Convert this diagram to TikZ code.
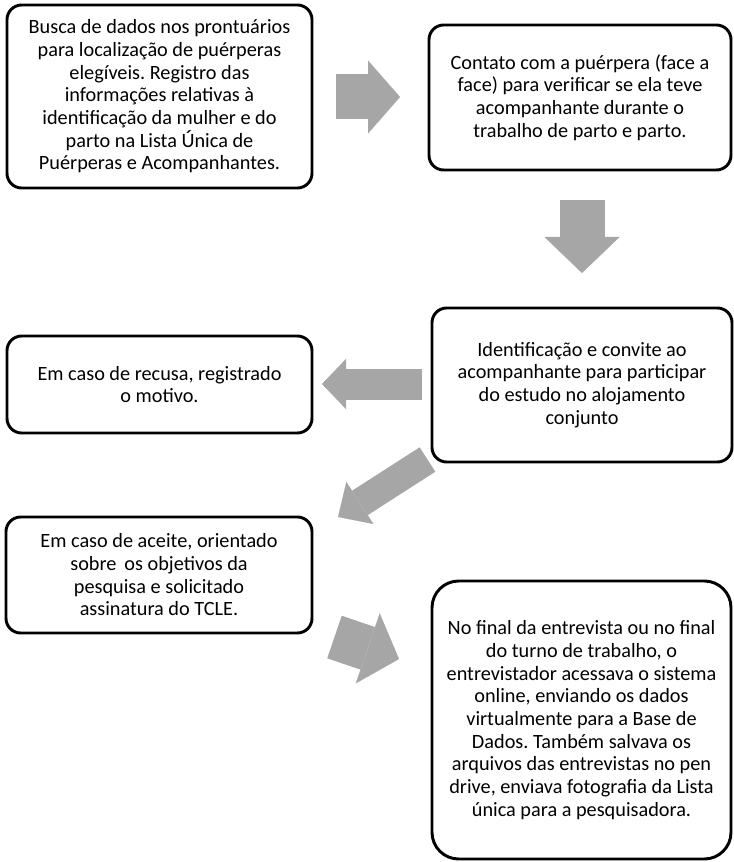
\documentclass[tikz,border=0pt]{standalone}
\usepackage{fontspec}
\setmainfont{Carlito}
\usepackage{tikz}
\usetikzlibrary{arrows.meta, positioning}
\definecolor{cinzaseta}{RGB}{166,166,166}
\tikzstyle{etapa} = [draw=black, line width=2.2pt, rectangle, rounded corners=11pt, align=center, inner sep=0pt, font=\fontsize{15.2}{17}\selectfont]
\tikzstyle{seta} = [draw=cinzaseta, line cap=butt]
\tikzset{ponta/.style n args={3}{line width=#1, -{Triangle[width=#2, length=#3, line width=0.1pt]}}}
\frenchspacing

\begin{document}
\begin{tikzpicture}[x=0.75pt, y=-0.75pt]
	\useasboundingbox (0,0) rectangle (733,862);
	% caixas
	\node[etapa, minimum width=228.75pt, minimum height=137.25pt] (busca) at (159.5,96.5) {Busca de dados nos prontuários\\para localização de puérperas\\elegíveis. Registro das\\informações relativas à\\identificação da mulher e do\\parto na Lista Única de\\Puérperas e Acompanhantes.};
	\node[etapa, minimum width=226.5pt, minimum height=108.75pt] (contato) at (580,97.5) {Contato com a puérpera (face a\\face) para verificar se ela teve\\acompanhante durante o\\trabalho de parto e parto.};
	\node[etapa, minimum width=228.75pt, minimum height=72.75pt] (recusa) at (159.5,384.5) {Em caso de recusa, registrado\\o motivo.};
	\node[etapa, minimum width=225pt, minimum height=115.5pt] (convite) at (582,385) {Identificação e convite ao\\acompanhante para participar\\do estudo no alojamento\\conjunto};
	\node[etapa, minimum width=229.5pt, minimum height=87pt] (aceite) at (159,575) {Em caso de aceite, orientado\\sobre\, os objetivos da\\pesquisa e solicitado\\assinatura do TCLE.};
	\node[etapa, rounded corners=20pt, minimum width=224.25pt, minimum height=208.5pt] (final) at (581.5,720) {No final da entrevista ou no final\\do turno de trabalho, o\\entrevistador acessava o sistema\\online, enviando os dados\\virtualmente para a Base de\\Dados. Também salvava os\\arquivos das entrevistas no pen\\drive, enviava fotografia da Lista\\única para a pesquisadora.};
	% setas
	\coordinate (s1a) at (336,97);
	\coordinate (s1b) at (400,97);
	\coordinate (s2a) at (582,200);
	\coordinate (s2b) at (582,273);
	\coordinate (s3a) at (422,384);
	\coordinate (s3b) at (322,384);
	\coordinate (s4a) at (427.5,459.5);
	\coordinate (s4b) at (338,517);
	\coordinate (s5a) at (334.5,637);
	\coordinate (s5b) at (399,659);
	\draw[seta, ponta={33.75pt}{54.75pt}{24pt}] (s1a) -- (s1b);
	\draw[seta, ponta={33.75pt}{56.25pt}{27pt}] (s2a) -- (s2b);
	\draw[seta, ponta={23.25pt}{37.5pt}{18pt}] (s3a) -- (s3b);
	\draw[seta, ponta={21.75pt}{37.5pt}{19.5pt}] (s4a) -- (s4b);
	\draw[seta, ponta={33.75pt}{55.5pt}{24.75pt}] (s5a) -- (s5b);
\end{tikzpicture}
\end{document}
